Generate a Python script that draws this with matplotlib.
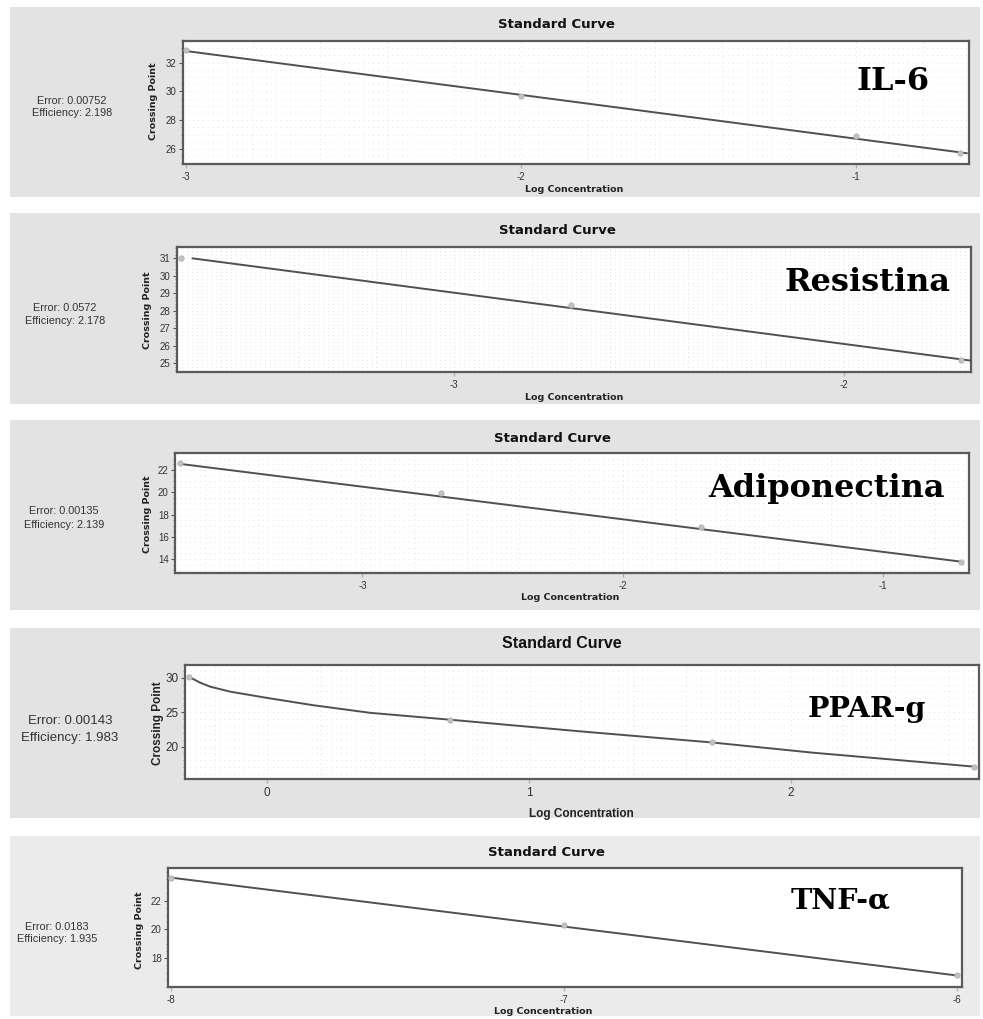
"""
Five qPCR standard curves (IL-6, Resistina, Adiponectina, PPAR-g, TNF-a)
stacked as separate panels, redrawn as one figure.

Output:
    out.png
"""

import matplotlib
matplotlib.use("Agg")
import matplotlib.pyplot as plt
from matplotlib.patches import Rectangle


FIG_W, FIG_H = 983, 1019

plt.rcParams["axes.unicode_minus"] = False

# --- data -----------------------------------------------------------------

GENES = ["IL-6", "Resistina", "Adiponectina", "PPAR-g", "TNF-\u03b1"]
ERRORS = ["0.00752", "0.0572", "0.00135", "0.00143", "0.0183"]
EFFICIENCIES = ["2.198", "2.178", "2.139", "1.983", "1.935"]

IL6_X = [-3.0, -2.0, -1.0, -0.69]
IL6_Y = [32.9, 29.7, 26.9, 25.7]
IL6_LINE_X = [-3.0, -0.67]
IL6_LINE_Y = [32.8, 25.7]

RES_X = [-3.70, -2.70, -1.70]
RES_Y = [31.0, 28.33, 25.2]
RES_LINE_X = [-3.67, -1.674]
RES_LINE_Y = [31.0, 25.15]

ADIPO_X = [-3.70, -2.70, -1.70, -0.70]
ADIPO_Y = [22.6, 19.9, 16.9, 13.76]
ADIPO_LINE_X = [-3.70, -0.70]
ADIPO_LINE_Y = [22.55, 13.76]

PPAR_X = [-0.30, 0.70, 1.70, 2.70]
PPAR_Y = [30.15, 23.9, 20.6, 17.1]
PPAR_LINE_X = [-0.30, -0.256, -0.218, -0.141, 0.01, 0.177, 0.394,
               0.70, 1.20, 1.70, 2.09, 2.70]
PPAR_LINE_Y = [30.14, 29.28, 28.7, 27.97, 27.0, 26.0, 24.9,
               23.9, 22.2, 20.6, 19.1, 17.1]

TNF_X = [-8.0, -7.0, -6.0]
TNF_Y = [23.6, 20.3, 16.8]
TNF_LINE_X = [-8.0, -6.0]
TNF_LINE_Y = [23.6, 16.8]

IL6_XTICKS = [-3, -2, -1]
IL6_YTICKS = [26, 28, 30, 32]
RES_XTICKS = [-3, -2]
RES_YTICKS = [25, 26, 27, 28, 29, 30, 31]
ADIPO_XTICKS = [-3, -2, -1]
ADIPO_YTICKS = [14, 16, 18, 20, 22]
PPAR_XTICKS = [0, 1, 2]
PPAR_YTICKS = [20, 25, 30]
TNF_XTICKS = [-8, -7, -6]
TNF_YTICKS = [18, 20, 22]


# --- layout (pixels) --------------------------------------------------------

PANELS = [
    dict(x=IL6_X, y=IL6_Y, lx=IL6_LINE_X, ly=IL6_LINE_Y,
         xticks=IL6_XTICKS, yticks=IL6_YTICKS,
         xlim=(-3.01, -0.663), ylim=(24.95, 33.5),
         bg=(10, 7, 980, 197), ax=(183, 41, 969, 164),
         title=(556, 25), xlab=(574, 189), ylab=(154, 101),
         err=(72, 107), gene=(893, 90, 23), big=False),
    dict(x=RES_X, y=RES_Y, lx=RES_LINE_X, ly=RES_LINE_Y,
         xticks=RES_XTICKS, yticks=RES_YTICKS,
         xlim=(-3.71, -1.674), ylim=(24.5, 31.65),
         bg=(10, 213, 980, 404), ax=(177, 247, 971, 372),
         title=(557, 231), xlab=(574, 397), ylab=(148, 310),
         err=(65, 315), gene=(867, 291, 23), big=False),
    dict(x=ADIPO_X, y=ADIPO_Y, lx=ADIPO_LINE_X, ly=ADIPO_LINE_Y,
         xticks=ADIPO_XTICKS, yticks=ADIPO_YTICKS,
         xlim=(-3.72, -0.67), ylim=(12.74, 23.53),
         bg=(10, 420, 980, 610), ax=(175, 453, 969, 573),
         title=(552, 438), xlab=(570, 598), ylab=(148, 514),
         err=(64, 518), gene=(827, 497, 23), big=False),
    dict(x=PPAR_X, y=PPAR_Y, lx=PPAR_LINE_X, ly=PPAR_LINE_Y,
         xticks=PPAR_XTICKS, yticks=PPAR_YTICKS,
         xlim=(-0.314, 2.72), ylim=(15.3, 31.84),
         bg=(10, 628, 980, 818), ax=(185, 665, 979, 779),
         title=(562, 643), xlab=(581, 814), ylab=(158, 723),
         err=(70, 729), gene=(867, 717, 20.5), big=True),
    dict(x=TNF_X, y=TNF_Y, lx=TNF_LINE_X, ly=TNF_LINE_Y,
         xticks=TNF_XTICKS, yticks=TNF_YTICKS,
         xlim=(-8.008, -5.987), ylim=(16.0, 24.27),
         bg=(10, 836, 980, 1016), ax=(168, 868, 962, 987),
         title=(546, 853), xlab=(543, 1011), ylab=(140, 930),
         err=(57, 933), gene=(841, 908, 20.5), big=False),
]


def fx(px):
    return px / FIG_W


def fy(py):
    return 1 - py / FIG_H


def draw_panel(fig, p, gene, err, eff, last=False):
    x0, y0, x1, y1 = p["bg"]
    bg_color = "#ebebeb" if last else "#e3e3e3"
    fig.patches.append(Rectangle(
        (fx(x0), fy(y1)), fx(x1) - fx(x0), fy(y0) - fy(y1),
        transform=fig.transFigure, facecolor=bg_color,
        edgecolor="none", zorder=-10
    ))

    a0, b0, a1, b1 = p["ax"]
    ax = fig.add_axes([fx(a0), fy(b1), fx(a1) - fx(a0), fy(b0) - fy(b1)])
    ax.set_zorder(1)
    ax.set_facecolor("white")

    ax.plot(p["lx"], p["ly"], color="#505050", linewidth=1.4, zorder=3)
    ax.plot(p["x"], p["y"], linestyle="none", marker="o", markersize=3.8,
            color="#c2c2c2", markeredgecolor="#b0b0b0", markeredgewidth=0.6,
            zorder=4, clip_on=False)

    ax.set_xlim(*p["xlim"])
    ax.set_ylim(*p["ylim"])
    ax.set_xticks(p["xticks"])
    ax.set_yticks(p["yticks"])
    ax.set_xticklabels([str(t) for t in p["xticks"]])
    ax.set_yticklabels([str(t) for t in p["yticks"]])
    ax.minorticks_on()
    ax.tick_params(axis="x", which="minor", bottom=False)

    # faint stipple like the original software's plot area
    if not last:
        ax.grid(True, which="both", axis="both", color="#e4e4e4",
                linestyle=(0, (1, 4)), linewidth=0.7)

    small = "Liberation Sans"
    tick_size = 8.5 if p["big"] else 7
    ax.tick_params(axis="y", which="major", length=3, width=0.8,
                   color="#555555", labelsize=tick_size, labelcolor="#333333",
                   pad=1.5)
    ax.tick_params(axis="y", which="minor", length=1.5, width=0.6,
                   color="#777777")
    ax.tick_params(axis="x", which="major", length=3, width=1.0,
                   color="#b0b0b0", labelsize=tick_size, labelcolor="#333333",
                   pad=3)
    for lab in ax.get_xticklabels() + ax.get_yticklabels():
        lab.set_fontfamily(small)

    for spine in ax.spines.values():
        spine.set_color("#5a5a5a")
        spine.set_linewidth(1.6)

    if p["big"]:
        title_kw = dict(fontsize=11.5, fontweight="bold",
                        family=["Liberation Sans Narrow", "Liberation Sans"])
        lab_kw = dict(fontsize=8.5, fontweight="bold",
                      family=["Liberation Sans Narrow", "Liberation Sans"])
        err_kw = dict(fontsize=9.5, family=["Liberation Sans Narrow", "Liberation Sans"])
        err_gap = 17
    else:
        title_kw = dict(fontsize=9.5, fontweight="bold", family="DejaVu Sans")
        lab_kw = dict(fontsize=6.8, fontweight="bold", family="DejaVu Sans")
        err_kw = dict(fontsize=7.8, family="Liberation Sans")
        err_gap = 13

    tx, ty = p["title"]
    fig.text(fx(tx), fy(ty), "Standard Curve", ha="center", va="center",
             color="#111111", **title_kw)

    lx, ly = p["xlab"]
    fig.text(fx(lx), fy(ly), "Log Concentration", ha="center", va="center",
             color="#222222", **lab_kw)

    yx, yy = p["ylab"]
    fig.text(fx(yx), fy(yy), "Crossing Point", ha="center", va="center",
             rotation=90, color="#222222", **lab_kw)

    ex, ey = p["err"]
    fig.text(fx(ex), fy(ey - err_gap / 2), f"Error: {err}", ha="center",
             va="center", color="#333333", **err_kw)
    fig.text(fx(ex), fy(ey + err_gap / 2), f"Efficiency: {eff}", ha="center",
             va="center", color="#333333", **err_kw)

    # gene name sits inside the plot area, above the curve
    gx, gy, gsize = p["gene"]
    fig.text(fx(gx), fy(gy), gene, ha="center", va="baseline",
             fontsize=gsize, fontweight="bold", zorder=5,
             family=["DejaVu Serif"], color="black")


def main() -> None:
    fig = plt.figure(figsize=(FIG_W / 100, FIG_H / 100), dpi=100)
    fig.patch.set_facecolor("white")

    for i, (p, gene, err, eff) in enumerate(
            zip(PANELS, GENES, ERRORS, EFFICIENCIES)):
        draw_panel(fig, p, gene, err, eff, last=(i == len(PANELS) - 1))

    fig.savefig("out.png", dpi=100, facecolor="white")
    plt.close(fig)


if __name__ == "__main__":
    main()
